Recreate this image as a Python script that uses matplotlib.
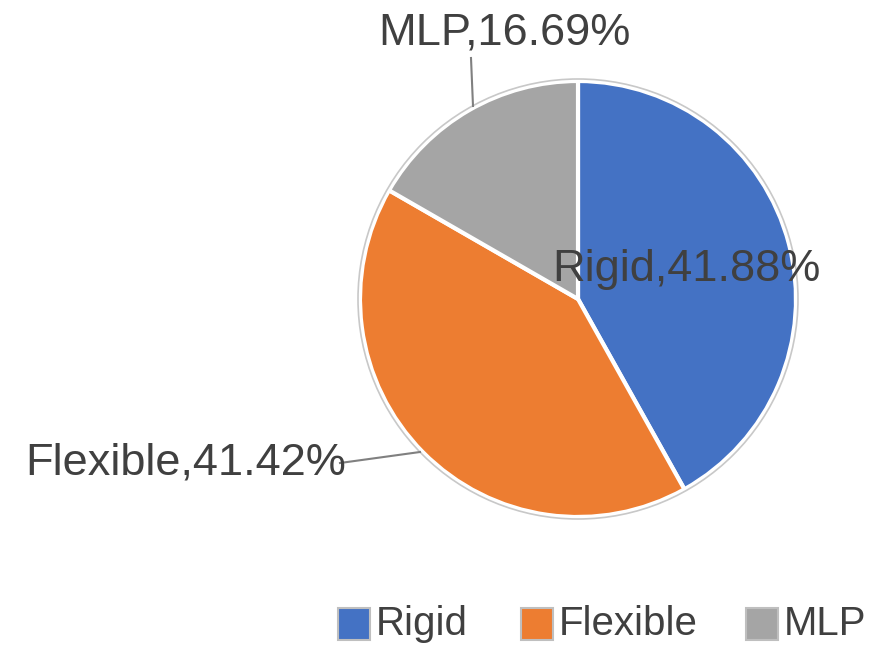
import matplotlib
matplotlib.use("Agg")
import matplotlib.pyplot as plt
from matplotlib.patches import Circle, Rectangle

categories = ["Rigid", "Flexible", "MLP"]
shares = [41.88, 41.42, 16.69]
colors = ["#4472C4", "#ED7D31", "#A5A5A5"]

W, H = 890, 645
fig = plt.figure(figsize=(W / 100, H / 100), dpi=100)
ax = fig.add_axes([0, 0, 1, 1])

font = "Liberation Sans"
txt_color = "#404040"

cx, cy, r = 578, H - 299, 218
ax.pie(shares, colors=colors, startangle=90, counterclock=False,
       center=(cx, cy), radius=r, frame=True,
       wedgeprops=dict(edgecolor="white", linewidth=3))
ax.add_patch(Circle((cx, cy), r + 2, fill=False, edgecolor="#C8C8C8", linewidth=1.2))
ax.set_xlim(0, W)
ax.set_ylim(0, H)
ax.axis("off")

labels = [f"{c},{v:.2f}%" for c, v in zip(categories, shares)]
lab_size = 32.5
ax.text(552, H - 270, labels[0], fontsize=lab_size, family=font, color=txt_color,
        ha="left", va="center")
ax.text(25, H - 463, labels[1], fontsize=lab_size, family=font, color=txt_color,
        ha="left", va="center")
ax.text(378, H - 33, labels[2], fontsize=lab_size, family=font, color=txt_color,
        ha="left", va="center")

# leader lines
ax.plot([340, 420], [H - 463, H - 452], color="#808080", linewidth=1.5)
ax.plot([471, 473], [H - 58, H - 106], color="#808080", linewidth=1.5)

# legend
legend_x = [338, 521, 746]
for x, c, name in zip(legend_x, colors, categories):
    ax.add_patch(Rectangle((x, H - 640), 32, 32, facecolor=c,
                           edgecolor="#BFBFBF", linewidth=1.5))
    ax.text(x + 38, H - 624, name, fontsize=29, family=font, color=txt_color,
            ha="left", va="center")

fig.savefig("out.png", dpi=100, facecolor="white")
